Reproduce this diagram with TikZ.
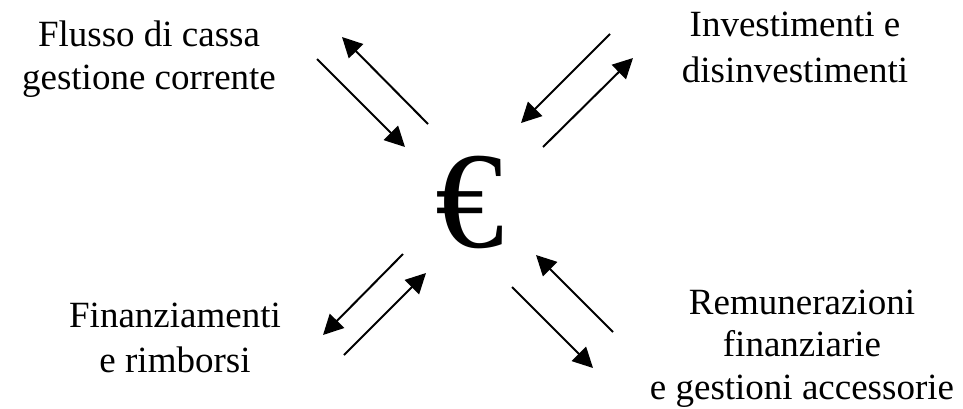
\documentclass[tikz,border=0pt]{standalone}
\usepackage{fontspec}
\setmainfont{Liberation Serif}
\usetikzlibrary{arrows.meta}

\begin{document}
\begin{tikzpicture}[x=1pt, y=-1pt, >={Triangle[length=20pt,width=20pt]},
  flow/.style={->, line width=2pt},
  lbl/.style={anchor=base, align=center, inner sep=0pt, font=\fontsize{37}{44}\selectfont}]
  \useasboundingbox (0,0) rectangle (963,408);
  % centre
  \node[anchor=base, inner sep=0pt, font=\fontsize{138}{138}\selectfont] (euro) at (470,247) {€};
  % labels (placed at the baseline of their last line)
  \node[lbl, font=\fontsize{37}{43}\selectfont] (flusso) at (149,89) {Flusso di cassa\\gestione corrente};
  \node[lbl, font=\fontsize{37}{46}\selectfont] (invest) at (795,82) {Investimenti e\\disinvestimenti};
  \node[lbl, font=\fontsize{37}{45}\selectfont] (finanz) at (175,372) {Finanziamenti\\e rimborsi};
  \node[lbl, font=\fontsize{37}{42.5}\selectfont] (remun) at (802,399) {Remunerazioni\\finanziarie\\e gestioni accessorie};
  % arrow ends
  \coordinate (a1) at (428,124); \coordinate (a2) at (342,37);
  \coordinate (b1) at (317,59);  \coordinate (b2) at (405,147);
  \coordinate (c1) at (610,34);  \coordinate (c2) at (521,123);
  \coordinate (d1) at (543,147); \coordinate (d2) at (633,58);
  \coordinate (e1) at (403,254); \coordinate (e2) at (323,335);
  \coordinate (f1) at (344,355); \coordinate (f2) at (426,273);
  \coordinate (g1) at (613,332); \coordinate (g2) at (536,255);
  \coordinate (h1) at (512,287); \coordinate (h2) at (593,368);
  % flows
  \draw[flow] (a1) -- (a2);
  \draw[flow] (b1) -- (b2);
  \draw[flow] (c1) -- (c2);
  \draw[flow] (d1) -- (d2);
  \draw[flow] (e1) -- (e2);
  \draw[flow] (f1) -- (f2);
  \draw[flow] (g1) -- (g2);
  \draw[flow] (h1) -- (h2);
\end{tikzpicture}
\end{document}
